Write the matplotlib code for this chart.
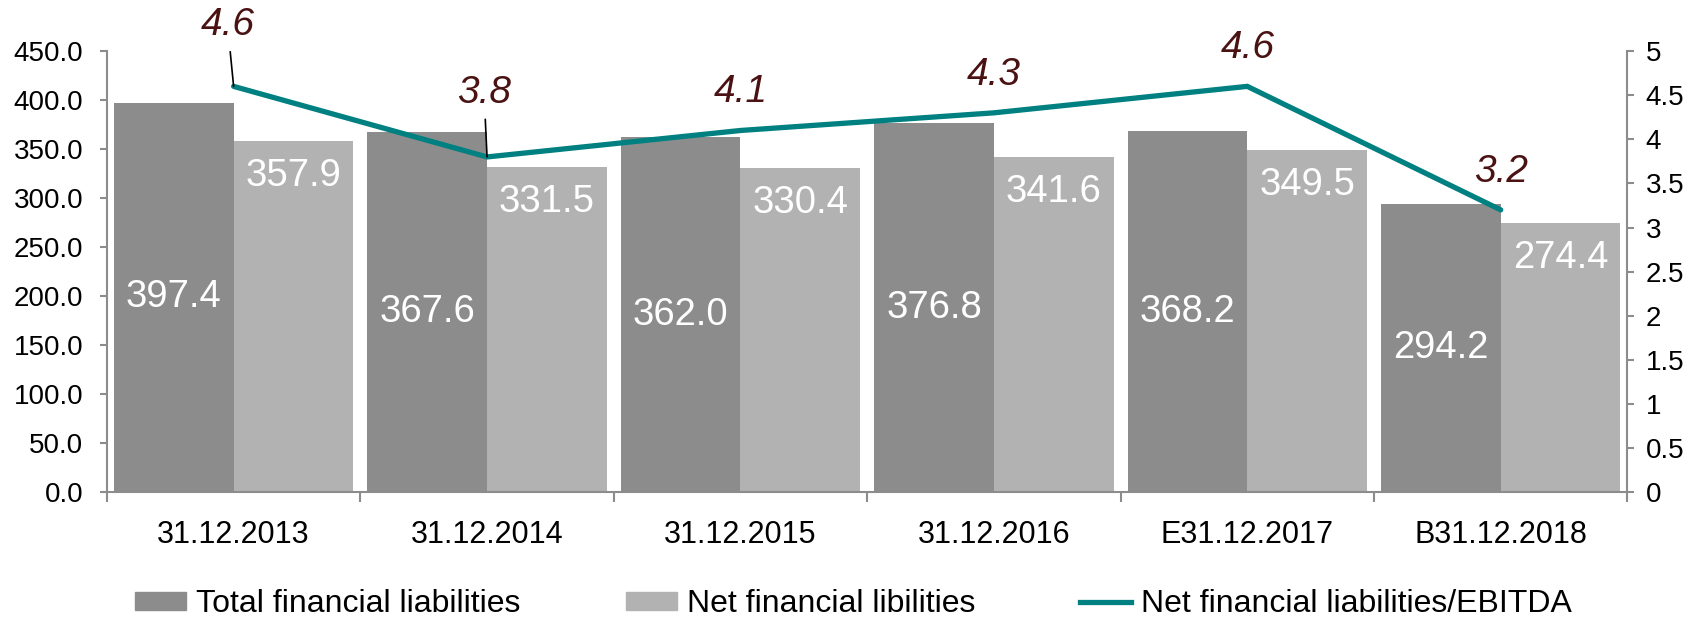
import numpy as np
import matplotlib
matplotlib.use('Agg')
import matplotlib.pyplot as plt
from matplotlib.patches import Patch
from matplotlib.lines import Line2D

plt.rcParams['font.family'] = ['Liberation Sans', 'DejaVu Sans']

# data
categories = ['31.12.2013', '31.12.2014', '31.12.2015', '31.12.2016', 'E31.12.2017', 'B31.12.2018']
total_liab = [397.4, 367.6, 362.0, 376.8, 368.2, 294.2]
net_liab = [357.9, 331.5, 330.4, 341.6, 349.5, 274.4]
ratio = [4.6, 3.8, 4.1, 4.3, 4.6, 3.2]
left_ticks = [0, 50, 100, 150, 200, 250, 300, 350, 400, 450]
right_ticks = [0, 0.5, 1, 1.5, 2, 2.5, 3, 3.5, 4, 4.5, 5]

dark = '#8c8c8c'
light = '#b2b2b2'
teal = '#008080'
maroon = '#4a1212'
spine_col = '#8c8c8c'

fig = plt.figure(figsize=(16.97, 6.23), dpi=100)
ax = fig.add_axes([0.063, 0.21, 0.896, 0.708])

x = np.arange(len(categories))
w = 0.4725

b1 = ax.bar(x - w / 2, total_liab, w, color=dark, zorder=2)
b2 = ax.bar(x + w / 2, net_liab, w, color=light, zorder=2)

# value labels
for xi, v in zip(x, total_liab):
    ax.text(xi - w / 2, v / 2, f'{v:.1f}', ha='center', va='center',
            color='white', fontsize=27.5, zorder=3)
for xi, v in zip(x, net_liab):
    ax.annotate(f'{v:.1f}', (xi + w / 2, v), xytext=(0, -35), textcoords='offset pixels',
                ha='center', va='center', color='white', fontsize=27.5, zorder=3)

ax.set_xlim(-0.5, len(categories) - 0.5)
ax.set_ylim(0, 450)
ax.set_yticks(left_ticks)
ax.set_yticklabels([f'{t:.1f}' for t in left_ticks])
ax.set_xticks(x)
ax.set_xticklabels(categories)
ax.set_xticks(np.arange(-0.5, len(categories)), minor=True)
ax.tick_params(axis='x', which='major', length=0, pad=20, labelsize=22)
ax.tick_params(axis='x', which='minor', length=7, width=1.5, color=spine_col)
ax.tick_params(axis='y', length=5, width=1.5, color=spine_col, pad=12, labelsize=20)

for s in ['top', 'right']:
    ax.spines[s].set_visible(False)
for s in ['left', 'bottom']:
    ax.spines[s].set_color(spine_col)
    ax.spines[s].set_linewidth(1.5)

# ratio on the secondary axis
ax2 = ax.twinx()
ax2.plot(x, ratio, color=teal, linewidth=3.8, solid_capstyle='round', solid_joinstyle='miter')
ax2.set_ylim(0, 5)
ax2.set_yticks(right_ticks)
ax2.set_yticklabels([f'{t:g}' for t in right_ticks])
ax2.tick_params(axis='y', length=5, width=1.5, color=spine_col, pad=8, labelsize=20)
for s in ['top', 'left', 'bottom']:
    ax2.spines[s].set_visible(False)
ax2.spines['right'].set_color(spine_col)
ax2.spines['right'].set_linewidth(1.5)

offsets = [(-6, 61), (-3, 64), (0, 38), (0, 38), (0, 38), (0, 38)]
for xi, v, off in zip(x, ratio, offsets):
    if off[1] > 50:
        ax2.annotate(f'{v:.1f}', (xi, v), xytext=off, textcoords='offset pixels',
                     ha='center', va='center', color=maroon, fontsize=28, style='italic',
                     arrowprops=dict(arrowstyle='-', color='black', lw=1.2, shrinkA=4, shrinkB=0))
    else:
        ax2.annotate(f'{v:.1f}', (xi, v), xytext=off, textcoords='offset pixels',
                     ha='center', va='center', color=maroon, fontsize=28, style='italic')

handles = [Patch(color=dark), Patch(color=light), Line2D([0], [0], color=teal, linewidth=3.8)]
labels = ['Total financial liabilities', 'Net financial libilities', 'Net financial liabilities/EBITDA']
fig.legend(handles, labels, loc='center', bbox_to_anchor=(0.503, 0.03), ncol=3, frameon=False,
           fontsize=23, handlelength=1.6, handleheight=0.5, handletextpad=0.3, columnspacing=3.3)

fig.savefig('out.png', dpi=100)
